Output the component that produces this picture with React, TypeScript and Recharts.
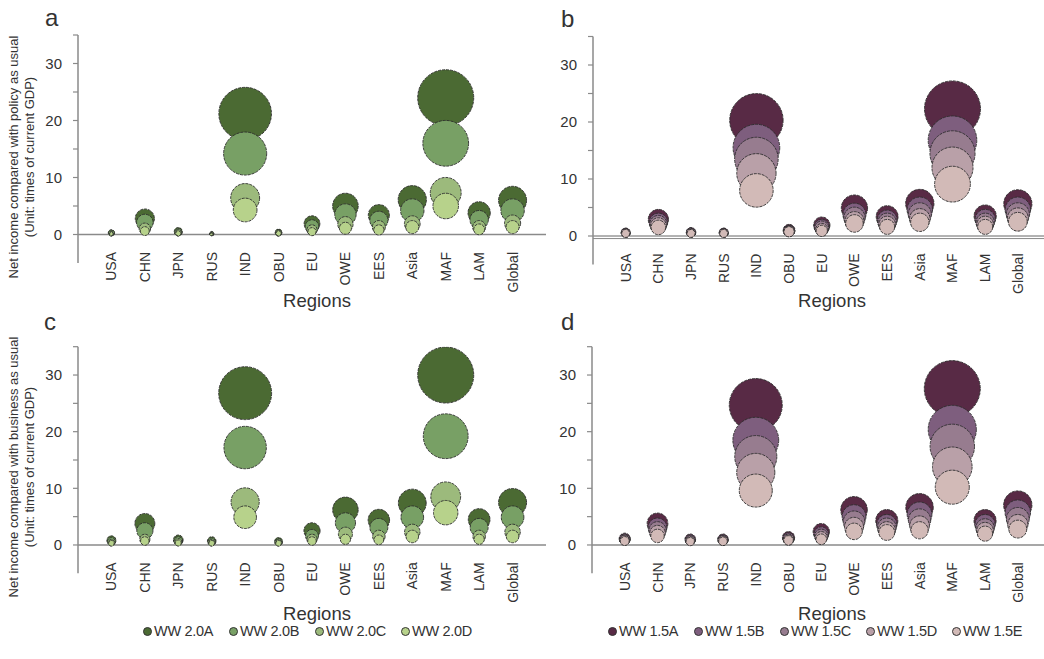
import React from "react";
import { ScatterChart, Scatter, XAxis, YAxis, ZAxis, ReferenceLine } from "recharts";

const regions = ["USA", "CHN", "JPN", "RUS", "IND", "OBU", "EU", "OWE", "EES", "Asia", "MAF", "LAM", "Global"];

const ww20Names = ["WW 2.0A", "WW 2.0B", "WW 2.0C", "WW 2.0D"];
const ww15Names = ["WW 1.5A", "WW 1.5B", "WW 1.5C", "WW 1.5D", "WW 1.5E"];
const greenColors = ["#4b6a33", "#78a065", "#9cba7c", "#b7d28b"];
const purpleColors = ["#582a45", "#7e5e7e", "#977c8f", "#b9a0a8", "#d2bab7"];

// panel a: compared with policy as usual, WW 2.0
const policy20A = [0.3, 2.8, 0.5, 0.15, 21.2, 0.35, 1.9, 5.0, 3.4, 6.1, 24.0, 3.8, 6.0];
const policy20B = [0.25, 2.1, 0.4, 0.12, 14.2, 0.3, 1.4, 3.5, 2.5, 4.2, 16.0, 2.6, 4.2];
const policy20C = [0.15, 1.0, 0.3, 0.08, 6.4, 0.25, 0.8, 1.8, 1.3, 1.9, 7.3, 1.3, 2.0];
const policy20D = [0.1, 0.6, 0.2, 0.05, 4.3, 0.2, 0.5, 1.1, 0.8, 1.3, 5.0, 0.9, 1.3];

// panel b: compared with policy as usual, WW 1.5
const policy15A = [0.6, 2.9, 0.65, 0.6, 20.3, 1.0, 1.9, 4.9, 3.4, 5.7, 22.3, 3.5, 5.65];
const policy15B = [0.55, 2.4, 0.6, 0.55, 15.5, 0.9, 1.6, 3.75, 2.8, 4.6, 16.8, 2.9, 4.6];
const policy15C = [0.5, 2.1, 0.55, 0.5, 13.5, 0.85, 1.4, 3.2, 2.4, 3.8, 14.5, 2.4, 3.8];
const policy15D = [0.5, 1.8, 0.5, 0.5, 11.0, 0.8, 1.1, 2.6, 2.0, 3.0, 12.0, 2.0, 3.1];
const policy15E = [0.45, 1.5, 0.45, 0.45, 8.0, 0.75, 0.9, 2.2, 1.6, 2.4, 9.1, 1.6, 2.5];

// panel c: compared with business as usual, WW 2.0
const business20A = [0.8, 3.8, 0.9, 0.7, 26.8, 0.6, 2.5, 6.2, 4.4, 7.4, 30.0, 4.5, 7.5];
const business20B = [0.6, 2.5, 0.7, 0.55, 17.2, 0.5, 1.6, 3.9, 3.1, 4.9, 19.2, 3.1, 4.9];
const business20C = [0.4, 1.0, 0.5, 0.4, 7.6, 0.4, 1.0, 1.9, 1.5, 2.3, 8.5, 1.5, 2.3];
const business20D = [0.3, 0.7, 0.35, 0.3, 4.9, 0.3, 0.7, 1.0, 0.9, 1.5, 5.7, 1.0, 1.5];

// panel d: compared with business as usual, WW 1.5
const business15A = [1.1, 3.8, 1.0, 1.0, 24.7, 1.3, 2.35, 6.2, 4.3, 6.65, 27.6, 4.3, 7.05];
const business15B = [1.0, 3.1, 0.9, 0.9, 18.5, 1.15, 1.9, 5.0, 3.6, 5.4, 20.4, 3.6, 5.7];
const business15C = [0.9, 2.6, 0.8, 0.8, 15.6, 1.0, 1.6, 4.1, 3.1, 4.4, 17.4, 3.0, 4.6];
const business15D = [0.8, 2.1, 0.7, 0.75, 12.8, 0.9, 1.3, 3.2, 2.6, 3.4, 13.8, 2.5, 3.6];
const business15E = [0.7, 1.6, 0.6, 0.65, 9.6, 0.8, 1.0, 2.4, 2.2, 2.6, 10.2, 2.0, 2.8];

const yTicks = [0, 5, 10, 15, 20, 25, 30, 35];
const xTicks = regions.map((_, i) => i + 1);

const font = "'Liberation Sans', Arial, sans-serif";
const textColor = "#333";
const axisColor = "#8a8a8a";
// biggest bubble of each panel gets this radius (Excel-style bubble scaling)
const maxBubbleArea = Math.PI * 28 * 28;

const toRows = (values: number[]) => values.map((v, i) => ({ x: i + 1, y: v, z: v }));

const RegionTick = (props: any) => {
  const { x, y, payload } = props;
  const label = regions[payload.value - 1] ?? "";
  return (
    <text
      transform={`translate(${x + 5},${y - 11}) rotate(-90)`}
      textAnchor="end"
      fontSize={14}
      fill={textColor}
      fontFamily={font}
    >
      {label}
    </text>
  );
};

interface PanelProps {
  left: number;
  top: number;
  width: number;
  height: number;
  plotLeft: number;
  plotTop: number;
  plotBottom: number;
  xMax: number;
  series: number[][];
  colors: string[];
  doubleZero?: boolean;
}

const Panel: React.FC<PanelProps> = ({
  left, top, width, height, plotLeft, plotTop, plotBottom, xMax, series, colors, doubleZero,
}) => {
  const zMax = Math.max(...series.flat());
  return (
    <div style={{ position: "absolute", left, top }}>
      <ScatterChart
        width={width}
        height={height}
        margin={{ top: plotTop, right: 0, left: 0, bottom: height - plotBottom - 20 }}
      >
        <XAxis
          type="number"
          dataKey="x"
          domain={[0, xMax]}
          ticks={xTicks}
          interval={0}
          height={20}
          axisLine={false}
          tickLine={false}
          tickSize={0}
          tickMargin={0}
          tick={<RegionTick />}
          allowDataOverflow
        />
        <YAxis
          type="number"
          dataKey="y"
          width={plotLeft}
          domain={[-5, 35]}
          ticks={yTicks}
          interval={0}
          allowDataOverflow
          tickFormatter={(v: number) => (v % 10 === 0 ? String(v) : "")}
          axisLine={{ stroke: axisColor, strokeWidth: 1.5 }}
          tickLine={{ stroke: axisColor, strokeWidth: 1.2 }}
          tickSize={5}
          tickMargin={11}
          tick={{ fontSize: 15, fill: textColor, fontFamily: font }}
        />
        <ZAxis type="number" dataKey="z" domain={[0, zMax]} range={[0, maxBubbleArea]} />
        {doubleZero ? (
          <>
            <ReferenceLine y={0} stroke="#666" strokeWidth={1} />
            <ReferenceLine y={-0.45} stroke="#888" strokeWidth={1} />
          </>
        ) : (
          <ReferenceLine y={0} stroke={axisColor} strokeWidth={1.5} />
        )}
        {series.map((vals, i) => (
          <Scatter
            key={i}
            data={toRows(vals)}
            fill={colors[i]}
            stroke="#2e2e2e"
            strokeWidth={0.9}
            strokeDasharray="3 1"
            isAnimationActive={false}
          />
        ))}
      </ScatterChart>
    </div>
  );
};

const LegendRow: React.FC<{ left: number; top: number; pitch: number; names: string[]; colors: string[] }> = ({
  left, top, pitch, names, colors,
}) => (
  <div
    style={{
      position: "absolute",
      left,
      top,
      display: "flex",
      fontFamily: font,
      fontSize: 14.5,
      letterSpacing: -0.3,
      color: textColor,
    }}
  >
    {names.map((n, i) => (
      <div key={n} style={{ width: pitch, display: "flex", alignItems: "center", whiteSpace: "nowrap" }}>
        <span
          style={{
            display: "inline-block",
            width: 7,
            height: 7,
            borderRadius: "50%",
            background: colors[i],
            border: "0.5px solid #333",
            marginRight: 2,
          }}
        />
        {n}
      </div>
    ))}
  </div>
);

const App: React.FC = () => (
  <div style={{ position: "absolute", left: 0, top: 0, width: 1044, height: 659, background: "#fff", overflow: "hidden" }}>
    <Panel
      left={0} top={0} width={546} height={310}
      plotLeft={78} plotTop={35} plotBottom={263} xMax={14}
      series={[policy20A, policy20B, policy20C, policy20D]} colors={greenColors}
    />
    <Panel
      left={520} top={0} width={524} height={310}
      plotLeft={73} plotTop={36.5} plotBottom={264.5} xMax={13.8}
      series={[policy15A, policy15B, policy15C, policy15D, policy15E]} colors={purpleColors} doubleZero
    />
    <Panel
      left={0} top={310} width={546} height={300}
      plotLeft={78} plotTop={36.7} plotBottom={263.3} xMax={14}
      series={[business20A, business20B, business20C, business20D]} colors={greenColors}
    />
    <Panel
      left={520} top={310} width={524} height={300}
      plotLeft={72} plotTop={36.7} plotBottom={263.3} xMax={13.8}
      series={[business15A, business15B, business15C, business15D, business15E]} colors={purpleColors}
    />
    <svg width={1044} height={659} style={{ position: "absolute", left: 0, top: 0, pointerEvents: "none" }}>
      <g fontFamily={font} fill={textColor}>
        <text x={45} y={26} fontSize={24}>a</text>
        <text x={561} y={27} fontSize={24}>b</text>
        <text x={44} y={330} fontSize={24}>c</text>
        <text x={561} y={330} fontSize={24}>d</text>
        <text x={317} y={307} fontSize={18.5} textAnchor="middle">Regions</text>
        <text x={832} y={307} fontSize={18.5} textAnchor="middle">Regions</text>
        <text x={317} y={620} fontSize={18.5} textAnchor="middle">Regions</text>
        <text x={832} y={620} fontSize={18.5} textAnchor="middle">Regions</text>
        <text transform="translate(18,157) rotate(-90)" fontSize={13} textAnchor="middle">
          Net income compared with policy as usual
        </text>
        <text transform="translate(34,157) rotate(-90)" fontSize={13} textAnchor="middle">
          (Unit: times of current GDP)
        </text>
        <text transform="translate(18,467) rotate(-90)" fontSize={13} textAnchor="middle">
          Net income compared with business as usual
        </text>
        <text transform="translate(34,467) rotate(-90)" fontSize={13} textAnchor="middle">
          (Unit: times of current GDP)
        </text>
      </g>
    </svg>
    <LegendRow left={143} top={623} pitch={86} names={ww20Names} colors={greenColors} />
    <LegendRow left={608} top={623} pitch={86} names={ww15Names} colors={purpleColors} />
  </div>
);

export default App;
